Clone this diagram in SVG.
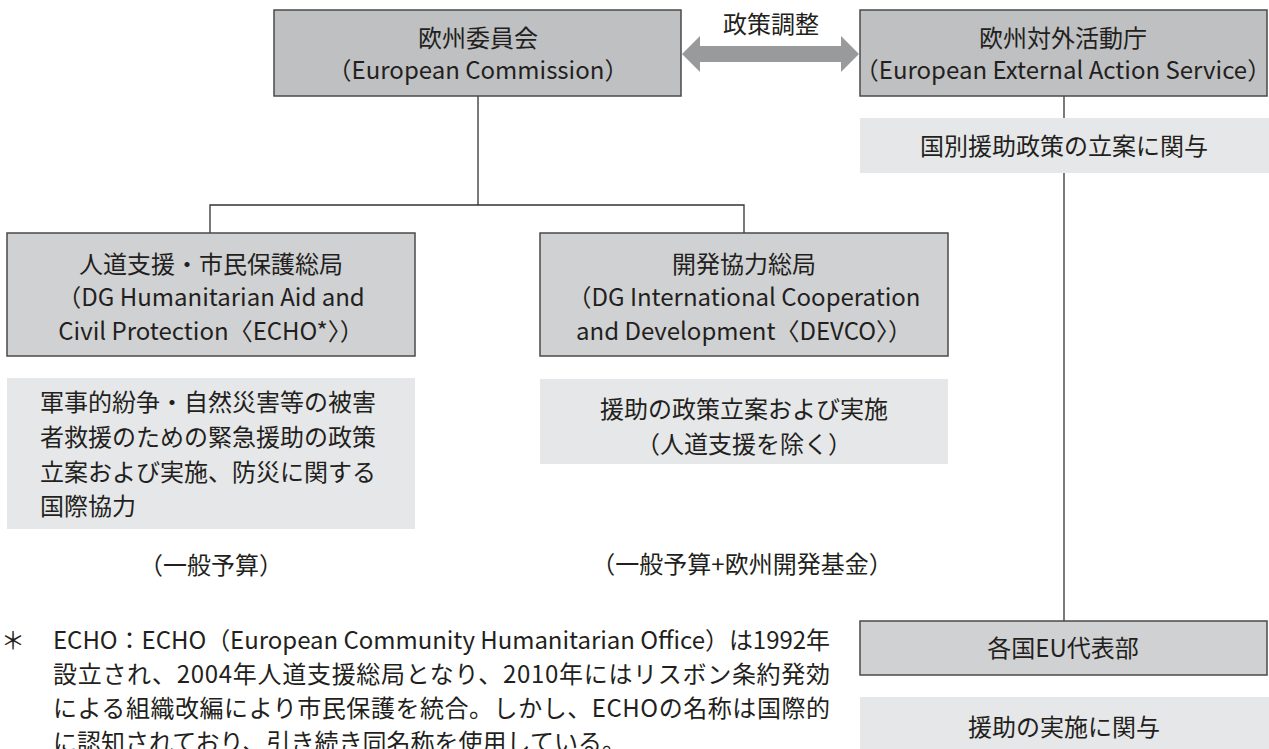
<svg xmlns="http://www.w3.org/2000/svg" width="1269" height="749" viewBox="0 0 1269 749">
<style>
text{font-family:"Noto Sans CJK JP","Noto Sans CJK SC",sans-serif;font-size:24px;fill:#231f20}
.c{text-anchor:middle}
.dark{fill:#bfc0c2;stroke:#4a4a4a;stroke-width:1.5}
.mid{fill:#d0d1d3;stroke:#4a4a4a;stroke-width:1.5}
.light{fill:#e6e7e8}
.ln{fill:none;stroke:#333;stroke-width:1.3}
</style>
<rect width="1269" height="749" fill="#fff"/>
<g id="connectors">
<path class="ln" d="M478 96V205M210 233V205H744V233"/>
<path class="ln" d="M1064 96V621"/>
<polygon fill="#999a9c" points="682,54 700,36 700,46 841,46 841,36 859,54 841,72 841,62 700,62 700,72"/>
<text class="c" x="771" y="33">政策調整</text>
</g>
<g id="ec">
<rect class="dark" x="274" y="10" width="407" height="86"/>
<text class="c" x="478" y="47">欧州委員会</text>
<text class="c" x="478" y="79">（European Commission）</text>
</g>
<g id="eeas">
<rect class="dark" x="860" y="10" width="407" height="86"/>
<text class="c" x="1063" y="47">欧州対外活動庁</text>
<text class="c" x="1063" y="79">（European External Action Service）</text>
</g>
<g id="eeas-role">
<rect class="light" x="860" y="118" width="409" height="55"/>
<text class="c" x="1064" y="155">国別援助政策の立案に関与</text>
</g>
<g id="echo">
<rect class="mid" x="7" y="233" width="408" height="123"/>
<text class="c" x="211" y="273">人道支援・市民保護総局</text>
<text class="c" x="211" y="306">（DG Humanitarian Aid and</text>
<text class="c" x="211" y="340">Civil Protection〈ECHO*〉）</text>
</g>
<g id="echo-role">
<rect class="light" x="7" y="378" width="408" height="151"/>
<text x="40" y="411">軍事的紛争・自然災害等の被害</text>
<text x="40" y="446">者救援のための緊急援助の政策</text>
<text x="40" y="481">立案および実施、防災に関する</text>
<text x="40" y="515">国際協力</text>
</g>
<text id="echo-budget" class="c" x="211" y="574">（一般予算）</text>
<g id="devco">
<rect class="mid" x="540" y="233" width="408" height="123"/>
<text class="c" x="744" y="273">開発協力総局</text>
<text class="c" x="744" y="306">（DG International Cooperation</text>
<text class="c" x="744" y="340">and Development〈DEVCO〉）</text>
</g>
<g id="devco-role">
<rect class="light" x="540" y="379" width="408" height="85"/>
<text class="c" x="744" y="418">援助の政策立案および実施</text>
<text class="c" x="744" y="453">（人道支援を除く）</text>
</g>
<text id="devco-budget" class="c" x="742" y="573">（一般予算+欧州開発基金）</text>
<g id="delegations">
<rect class="mid" x="860" y="621" width="407" height="54"/>
<text class="c" x="1063" y="657">各国EU代表部</text>
</g>
<g id="delegations-role">
<rect class="light" x="860" y="697" width="409" height="60"/>
<text class="c" x="1064" y="736">援助の実施に関与</text>
</g>
<g id="footnote">
<text x="1" y="649">＊</text>
<text x="53" y="649" textLength="777" lengthAdjust="spacing">ECHO：ECHO（European Community Humanitarian Office）は1992年</text>
<text x="53" y="683" textLength="777" lengthAdjust="spacing">設立され、2004年人道支援総局となり、2010年にはリスボン条約発効</text>
<text x="53" y="717" textLength="777" lengthAdjust="spacing">による組織改編により市民保護を統合。しかし、ECHOの名称は国際的</text>
<text x="53" y="751">に認知されており、引き続き同名称を使用している。</text>
</g>
</svg>
